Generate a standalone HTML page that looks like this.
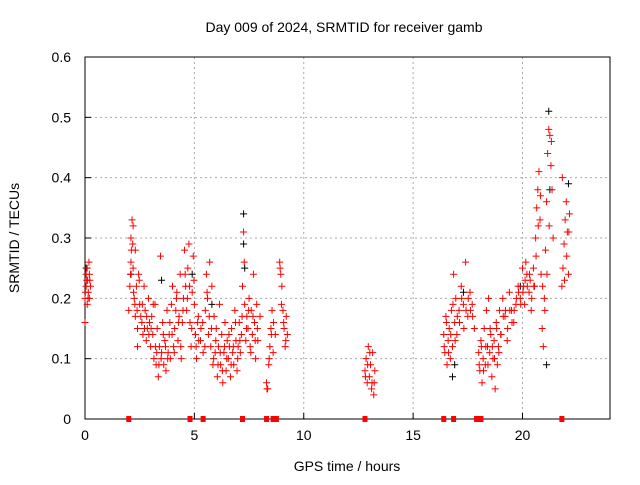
<!DOCTYPE html>
<html><head><meta charset="utf-8"><style>
body{margin:0;background:#fff}
svg{font-family:"Liberation Sans",sans-serif}
</style></head><body>
<svg id="chart" width="640" height="480" xmlns="http://www.w3.org/2000/svg">
<rect width="640" height="480" fill="#fff"/>
<text x="344" y="32" font-size="14" text-anchor="middle">Day 009 of 2024, SRMTID for receiver gamb</text>
<text transform="translate(19,238) rotate(-90)" font-size="14" text-anchor="middle">SRMTID / TECUs</text>
<text x="347" y="471" font-size="14" text-anchor="middle">GPS time / hours</text>
<g id="grid"></g><g id="axes"></g><g id="marks"></g>
</svg>
<script>
const xTicks=[0,5,10,15,20];
const yTicks=[0,0.1,0.2,0.3,0.4,0.5,0.6];
const yTickLabels=["0","0.1","0.2","0.3","0.4","0.5","0.6"];
const redTimes=[0,0,0.05,0.05,0.1,0.1,0.12,0.15,0.18,0.2,0.22,0.25,
2.0,2.05,2.1,2.1,2.15,2.2,2.2,2.25,2.3,2.3,2.35,2.4,2.4,2.45,2.5,
2.6,2.65,2.7,2.75,2.8,2.85,2.9,2.95,3.0,3.05,3.1,3.15,3.2,3.25,3.3,3.35,3.4,3.45,3.5,3.55,3.6,3.65,3.7,3.75,3.8,3.85,3.9,3.95,4.0,4.05,4.1,4.15,4.2,4.25,4.3,4.35,4.4,4.45,4.5,
4.55,4.6,4.65,4.7,4.75,4.8,4.85,4.9,4.95,5.0,
5.05,5.1,5.15,5.2,5.3,5.4,5.5,5.55,5.6,5.65,5.7,5.75,5.8,5.85,5.9,5.95,6.0,
6.05,6.1,6.15,6.2,6.25,6.3,6.35,6.4,6.45,6.5,6.55,6.6,6.65,6.7,6.75,6.8,6.85,6.9,6.95,7.0,
7.05,7.1,7.15,7.2,7.25,7.3,7.35,7.4,7.45,7.5,7.55,7.6,7.65,7.7,7.75,7.8,7.85,7.9,8.0,
8.3,8.35,8.4,8.45,8.5,8.55,8.6,8.7,
8.9,8.95,9.0,9.05,9.1,9.15,9.2,9.25,
12.8,12.85,12.9,12.95,13.0,13.05,13.1,13.15,13.2,13.25,
16.4,16.45,16.5,16.55,16.6,16.65,16.7,16.75,16.8,16.85,16.9,16.95,17.0,17.1,17.2,17.3,17.4,17.5,17.6,17.7,17.8,
18.0,18.05,18.1,18.15,18.2,18.25,18.3,18.35,18.4,18.45,18.5,18.55,18.6,18.65,18.7,18.75,18.8,18.85,18.9,18.95,19.0,19.1,19.2,19.3,19.4,19.5,19.6,19.7,19.8,19.9,
20.0,20.05,20.1,20.15,20.2,20.3,20.35,20.4,20.5,20.55,20.6,20.65,20.7,20.75,20.8,20.85,20.9,20.95,21.0,21.05,21.1,21.15,21.2,21.25,21.3,21.35,21.4,
21.8,21.85,21.9,21.95,22.0,22.05,22.1,22.15];
const redValues=[.16,.20,.24,.22,.19,.25,.23,.21,.26,.20,.23,.22,
.18,.22,.26,.30,.33,.32,.25,.20,.17,.28,.22,.15,.12,.24,.19,
.16,.14,.22,.18,.13,.15,.20,.16,.12,.17,.14,.10,.19,.09,.15,.07,.12,.27,.11,.16,.09,.13,.08,.18,.11,.14,.10,.19,.22,.12,.15,.18,.21,.13,.17,.24,.10,.16,.20,
.28,.22,.18,.25,.29,.16,.12,.21,.27,.19,
.14,.10,.16,.13,.15,.11,.18,.24,.20,.14,.26,.12,.22,.09,.17,.11,.15,
.07,.12,.19,.09,.14,.06,.11,.16,.08,.13,.10,.12,.07,.15,.11,.09,.18,.13,.08,.12,
.16,.11,.14,.22,.31,.19,.13,.17,.15,.20,.12,.18,.14,.24,.16,.10,.19,.13,.17,
.06,.05,.09,.12,.15,.18,.11,.14,
.26,.24,.22,.18,.15,.12,.17,.14,
.08,.10,.06,.12,.07,.09,.05,.11,.04,.08,
.14,.11,.17,.09,.13,.15,.10,.18,.12,.24,.16,.20,.14,.18,.22,.19,.26,.17,.21,.19,.15,
.11,.08,.13,.06,.10,.15,.09,.18,.12,.20,.11,.14,.07,.10,.13,.05,.16,.09,.12,.18,.14,.20,.17,.13,.21,.18,.16,.19,.22,.20,
.25,.22,.19,.26,.24,.21,.23,.18,.25,.22,.30,.35,.38,.41,.33,.24,.15,.12,.20,.28,.36,.44,.48,.47,.42,.38,.30,
.22,.25,.29,.33,.36,.31,.24,.34];
const extraTimes=[0.02,0.08,0.14,0.2,2.08,2.12,2.18,2.22,2.28,2.38,2.48,2.55,2.62,2.72,2.82,2.92,3.02,3.12,3.22,3.28,3.38,3.48,3.58,3.68,3.78,3.88,3.98,4.08,4.18,4.28,4.38,4.48,4.58,4.68,4.78,4.88,4.98,5.08,5.18,5.28,5.38,5.48,5.58,5.68,5.78,5.88,5.98,6.08,6.18,6.28,6.38,6.48,6.58,6.68,6.78,6.88,6.98,7.08,7.18,7.28,7.38,7.48,7.58,7.68,7.78,7.88,8.32,8.42,8.52,8.62,8.92,8.98,9.08,9.18,12.82,12.92,13.02,13.12,13.22,16.42,16.52,16.62,16.72,16.82,16.92,17.02,17.12,17.22,17.32,17.42,17.52,17.62,17.72,18.02,18.12,18.22,18.32,18.42,18.52,18.62,18.72,18.82,18.92,19.02,19.12,19.22,19.32,19.42,19.52,19.62,19.72,19.82,19.92,20.02,20.12,20.22,20.32,20.42,20.52,20.62,20.72,20.82,20.92,21.02,21.12,21.22,21.32,21.82,21.92,22.02,22.12];
const extraValues=[.21,.23,.20,.24,.24,.28,.29,.21,.19,.18,.23,.17,.19,.15,.17,.14,.15,.19,.12,.11,.09,.10,.14,.12,.10,.16,.14,.11,.20,.16,.12,.18,.24,.20,.22,.15,.23,.12,.17,.13,.16,.12,.21,.17,.15,.10,.13,.09,.11,.08,.12,.10,.14,.09,.12,.16,.10,.13,.17,.26,.15,.18,.11,.17,.13,.15,.05,.10,.14,.16,.25,.19,.16,.13,.07,.09,.11,.06,.06,.12,.16,.11,.14,.19,.13,.17,.16,.20,.15,.18,.20,.18,.17,.09,.12,.08,.12,.09,.15,.12,.10,.15,.11,.14,.17,.18,.15,.18,.16,.18,.20,.21,.19,.21,.23,.22,.24,.20,.22,.27,.32,.37,.22,.18,.24,.32,.46,.40,.23,.27,.31,.26];
const blackTimes=[0.05,2.1,3.5,4.9,5.8,7.25,7.25,7.3,16.8,16.9,17.3,19.9,21.1,21.2,21.25,22.1];
const blackValues=[.25,.24,.23,.24,.19,.34,.29,.25,.07,.09,.21,.22,.09,.51,.38,.39];
const zeroTimes=[2.0,4.8,5.4,7.2,8.3,8.6,8.75,12.8,16.4,16.85,17.9,18.1,21.8];

const X0=85,X1=610,Y0=419,Y1=57;
const xs=t=>X0+t/24*(X1-X0);
const ys=v=>Y0-v/0.6*(Y0-Y1);
const NS='http://www.w3.org/2000/svg';
function mk(tag,attrs,parent){const e=document.createElementNS(NS,tag);for(const k in attrs)e.setAttribute(k,attrs[k]);document.getElementById(parent).appendChild(e);return e;}
xTicks.forEach(t=>{
 const g=mk('line',{x1:xs(t),x2:xs(t),y1:Y0,y2:Y1,stroke:'#aaa','stroke-dasharray':'2,3'},'grid');
 
 
 const tk=mk('line',{x1:xs(t),x2:xs(t),y1:Y0,y2:Y0-6,stroke:'#000'},'axes');
 
 
 const tl=mk('text',{x:xs(t),y:Y0+21,'font-size':14,'text-anchor':'middle'},'axes');
 tl.textContent=String(t);
 
 
});
yTicks.forEach((v,i)=>{
 const g=mk('line',{x1:X0,x2:X1,y1:ys(v),y2:ys(v),stroke:'#aaa','stroke-dasharray':'2,3'},'grid');
 
 
 const tk=mk('line',{x1:X0,x2:X0+6,y1:ys(v),y2:ys(v),stroke:'#000'},'axes');
 
 
 const tl=mk('text',{x:X0-14,y:ys(v)+5,'font-size':14,'text-anchor':'end'},'axes');
 tl.textContent=yTickLabels[i];
 
 
});
const fr=mk('rect',{x:X0,y:Y1,width:X1-X0,height:Y0-Y1,fill:'none',stroke:'#000'},'axes');


function plus(t,v,c,name){
 const x=xs(t),y=ys(v);
 const p=mk('path',{d:`M${x-3.5},${y}H${x+3.5}M${x},${y-3.5}V${y+3.5}`,stroke:c,'stroke-width':1},'marks');
 
 
}
blackTimes.forEach((t,i)=>plus(t,blackValues[i],'#000','black-point'));
redTimes.forEach((t,i)=>plus(t,redValues[i],'#f00','red-point'));
extraTimes.forEach((t,i)=>plus(t,extraValues[i],'#f00','red-point'));
zeroTimes.forEach(t=>{
 const r=mk('rect',{x:xs(t)-2.5,y:Y0-3,width:5,height:6,fill:'#f00'},'marks');
 
 
});
</script>
</body></html>
